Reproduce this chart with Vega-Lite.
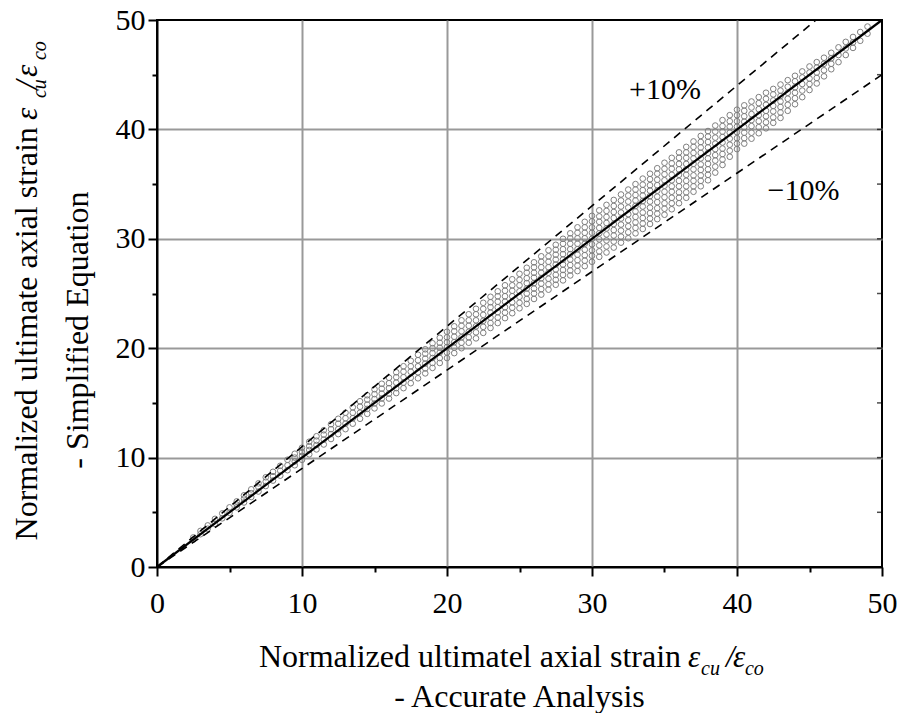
{
"$schema": "https://vega.github.io/schema/vega-lite/v6.json",
"width": 725,
"height": 547,
"autosize": {"type": "none"},
"padding": {"left": 157, "top": 20, "right": 20, "bottom": 146},
"background": "white",
"config": {
  "view": {"stroke": "black", "strokeWidth": 2},
  "font": "Liberation Serif"
},
"datasets": {
"pts": [
{"x":2.5,"y":2.5},{"x":2.5,"y":2.7},
{"x":3,"y":3.0},{"x":3,"y":3.3},
{"x":3.5,"y":3.5},{"x":3.5,"y":3.8},
{"x":4,"y":3.95},{"x":4,"y":4.4},
{"x":4.5,"y":4.45},{"x":4.5,"y":4.9},
{"x":5,"y":4.95},{"x":5,"y":5.45},
{"x":5.5,"y":5.45},{"x":5.5,"y":5.7},{"x":5.5,"y":6.0},
{"x":6,"y":5.9},{"x":6,"y":6.25},{"x":6,"y":6.55},
{"x":6.5,"y":6.4},{"x":6.5,"y":6.75},{"x":6.5,"y":7.1},
{"x":7,"y":6.9},{"x":7,"y":7.3},{"x":7,"y":7.65},
{"x":7.5,"y":7.4},{"x":7.5,"y":7.8},{"x":7.5,"y":8.2},
{"x":8,"y":7.9},{"x":8,"y":8.3},{"x":8,"y":8.7},
{"x":8.5,"y":8.35},{"x":8.5,"y":8.8},{"x":8.5,"y":9.25},
{"x":9,"y":8.85},{"x":9,"y":9.3},{"x":9,"y":9.8},
{"x":9.5,"y":9.3},{"x":9.5,"y":9.65},{"x":9.5,"y":10.0},{"x":9.5,"y":10.35},
{"x":10,"y":9.8},{"x":10,"y":10.15},{"x":10,"y":10.5},{"x":10,"y":10.9},
{"x":10.5,"y":10.3},{"x":10.5,"y":10.7},{"x":10.5,"y":11.05},{"x":10.5,"y":11.45},
{"x":11,"y":10.75},{"x":11,"y":11.15},{"x":11,"y":11.55},{"x":11,"y":11.95},
{"x":11.5,"y":11.2},{"x":11.5,"y":11.65},{"x":11.5,"y":12.1},{"x":11.5,"y":12.5},
{"x":12,"y":11.7},{"x":12,"y":12.15},{"x":12,"y":12.6},{"x":12,"y":13.05},
{"x":12.5,"y":12.15},{"x":12.5,"y":12.6},{"x":12.5,"y":13.1},{"x":12.5,"y":13.55},
{"x":13,"y":12.6},{"x":13,"y":13.1},{"x":13,"y":13.6},{"x":13,"y":14.1},
{"x":13.5,"y":13.1},{"x":13.5,"y":13.6},{"x":13.5,"y":14.1},{"x":13.5,"y":14.6},
{"x":14,"y":13.55},{"x":14,"y":14.1},{"x":14,"y":14.65},{"x":14,"y":15.15},
{"x":14.5,"y":14.0},{"x":14.5,"y":14.45},{"x":14.5,"y":14.85},{"x":14.5,"y":15.3},{"x":14.5,"y":15.7},
{"x":15,"y":14.5},{"x":15,"y":14.95},{"x":15,"y":15.35},{"x":15,"y":15.8},{"x":15,"y":16.25},
{"x":15.5,"y":14.95},{"x":15.5,"y":15.4},{"x":15.5,"y":15.85},{"x":15.5,"y":16.3},{"x":15.5,"y":16.75},
{"x":16,"y":15.4},{"x":16,"y":15.85},{"x":16,"y":16.35},{"x":16,"y":16.8},{"x":16,"y":17.3},
{"x":16.5,"y":15.9},{"x":16.5,"y":16.35},{"x":16.5,"y":16.85},{"x":16.5,"y":17.35},{"x":16.5,"y":17.8},
{"x":17,"y":16.35},{"x":17,"y":16.85},{"x":17,"y":17.35},{"x":17,"y":17.85},{"x":17,"y":18.35},
{"x":17.5,"y":16.8},{"x":17.5,"y":17.3},{"x":17.5,"y":17.85},{"x":17.5,"y":18.35},{"x":17.5,"y":18.85},
{"x":18,"y":17.25},{"x":18,"y":17.8},{"x":18,"y":18.35},{"x":18,"y":18.9},{"x":18,"y":19.4},
{"x":18.5,"y":17.7},{"x":18.5,"y":18.15},{"x":18.5,"y":18.6},{"x":18.5,"y":19.05},{"x":18.5,"y":19.5},{"x":18.5,"y":19.9},
{"x":19,"y":18.2},{"x":19,"y":18.65},{"x":19,"y":19.1},{"x":19,"y":19.55},{"x":19,"y":20.0},{"x":19,"y":20.45},
{"x":19.5,"y":18.65},{"x":19.5,"y":19.1},{"x":19.5,"y":19.6},{"x":19.5,"y":20.05},{"x":19.5,"y":20.5},{"x":19.5,"y":20.95},
{"x":20,"y":19.1},{"x":20,"y":19.6},{"x":20,"y":20.1},{"x":20,"y":20.55},{"x":20,"y":21.0},{"x":20,"y":21.5},
{"x":20.5,"y":19.55},{"x":20.5,"y":20.05},{"x":20.5,"y":20.55},{"x":20.5,"y":21.05},{"x":20.5,"y":21.55},{"x":20.5,"y":22.0},
{"x":21,"y":20.0},{"x":21,"y":20.5},{"x":21,"y":21.0},{"x":21,"y":21.55},{"x":21,"y":22.05},{"x":21,"y":22.55},
{"x":21.5,"y":20.5},{"x":21.5,"y":21.0},{"x":21.5,"y":21.5},{"x":21.5,"y":22.05},{"x":21.5,"y":22.55},{"x":21.5,"y":23.1},
{"x":22,"y":20.9},{"x":22,"y":21.45},{"x":22,"y":22.0},{"x":22,"y":22.55},{"x":22,"y":23.1},{"x":22,"y":23.6},
{"x":22.5,"y":21.4},{"x":22.5,"y":21.95},{"x":22.5,"y":22.5},{"x":22.5,"y":23.05},{"x":22.5,"y":23.6},{"x":22.5,"y":24.15},
{"x":23,"y":21.85},{"x":23,"y":22.3},{"x":23,"y":22.8},{"x":23,"y":23.25},{"x":23,"y":23.75},{"x":23,"y":24.2},{"x":23,"y":24.7},
{"x":23.5,"y":22.3},{"x":23.5,"y":22.8},{"x":23.5,"y":23.3},{"x":23.5,"y":23.75},{"x":23.5,"y":24.25},{"x":23.5,"y":24.75},{"x":23.5,"y":25.2},
{"x":24,"y":22.75},{"x":24,"y":23.25},{"x":24,"y":23.75},{"x":24,"y":24.25},{"x":24,"y":24.75},{"x":24,"y":25.25},{"x":24,"y":25.75},
{"x":24.5,"y":23.2},{"x":24.5,"y":23.7},{"x":24.5,"y":24.2},{"x":24.5,"y":24.75},{"x":24.5,"y":25.25},{"x":24.5,"y":25.75},{"x":24.5,"y":26.3},
{"x":25,"y":23.65},{"x":25,"y":24.15},{"x":25,"y":24.7},{"x":25,"y":25.2},{"x":25,"y":25.75},{"x":25,"y":26.25},{"x":25,"y":26.8},
{"x":25.5,"y":24.05},{"x":25.5,"y":24.5},{"x":25.5,"y":25.0},{"x":25.5,"y":25.45},{"x":25.5,"y":25.95},{"x":25.5,"y":26.4},{"x":25.5,"y":26.9},{"x":25.5,"y":27.35},
{"x":26,"y":24.5},{"x":26,"y":25.0},{"x":26,"y":25.45},{"x":26,"y":25.95},{"x":26,"y":26.45},{"x":26,"y":26.9},{"x":26,"y":27.4},{"x":26,"y":27.85},
{"x":26.5,"y":24.9},{"x":26.5,"y":25.4},{"x":26.5,"y":25.9},{"x":26.5,"y":26.4},{"x":26.5,"y":26.9},{"x":26.5,"y":27.4},{"x":26.5,"y":27.9},{"x":26.5,"y":28.4},
{"x":27,"y":25.35},{"x":27,"y":25.85},{"x":27,"y":26.35},{"x":27,"y":26.9},{"x":27,"y":27.4},{"x":27,"y":27.9},{"x":27,"y":28.4},{"x":27,"y":28.95},
{"x":27.5,"y":25.8},{"x":27.5,"y":26.25},{"x":27.5,"y":26.7},{"x":27.5,"y":27.2},{"x":27.5,"y":27.65},{"x":27.5,"y":28.1},{"x":27.5,"y":28.55},{"x":27.5,"y":29.0},{"x":27.5,"y":29.45},
{"x":28,"y":26.2},{"x":28,"y":26.7},{"x":28,"y":27.15},{"x":28,"y":27.65},{"x":28,"y":28.1},{"x":28,"y":28.6},{"x":28,"y":29.05},{"x":28,"y":29.55},{"x":28,"y":30.0},
{"x":28.5,"y":26.65},{"x":28.5,"y":27.1},{"x":28.5,"y":27.6},{"x":28.5,"y":28.1},{"x":28.5,"y":28.6},{"x":28.5,"y":29.05},{"x":28.5,"y":29.55},{"x":28.5,"y":30.05},{"x":28.5,"y":30.5},
{"x":29,"y":27.05},{"x":29,"y":27.55},{"x":29,"y":28.05},{"x":29,"y":28.55},{"x":29,"y":29.05},{"x":29,"y":29.55},{"x":29,"y":30.05},{"x":29,"y":30.55},{"x":29,"y":31.05},
{"x":29.5,"y":27.5},{"x":29.5,"y":28.0},{"x":29.5,"y":28.5},{"x":29.5,"y":29.0},{"x":29.5,"y":29.55},{"x":29.5,"y":30.05},{"x":29.5,"y":30.55},{"x":29.5,"y":31.05},{"x":29.5,"y":31.55},
{"x":30,"y":27.9},{"x":30,"y":28.45},{"x":30,"y":28.95},{"x":30,"y":29.5},{"x":30,"y":30.0},{"x":30,"y":30.55},{"x":30,"y":31.05},{"x":30,"y":31.6},{"x":30,"y":32.1},
{"x":30.5,"y":28.35},{"x":30.5,"y":28.85},{"x":30.5,"y":29.4},{"x":30.5,"y":29.95},{"x":30.5,"y":30.5},{"x":30.5,"y":31.0},{"x":30.5,"y":31.55},{"x":30.5,"y":32.05},{"x":30.5,"y":32.6},
{"x":31,"y":28.75},{"x":31,"y":29.3},{"x":31,"y":29.85},{"x":31,"y":30.4},{"x":31,"y":30.95},{"x":31,"y":31.45},{"x":31,"y":32.0},{"x":31,"y":32.55},{"x":31,"y":33.1},
{"x":31.5,"y":29.2},{"x":31.5,"y":29.75},{"x":31.5,"y":30.3},{"x":31.5,"y":30.8},{"x":31.5,"y":31.35},{"x":31.5,"y":31.9},{"x":31.5,"y":32.45},{"x":31.5,"y":33.0},{"x":31.5,"y":33.55},
{"x":32,"y":29.65},{"x":32,"y":30.2},{"x":32,"y":30.75},{"x":32,"y":31.3},{"x":32,"y":31.85},{"x":32,"y":32.4},{"x":32,"y":32.95},{"x":32,"y":33.5},{"x":32,"y":34.05},
{"x":32.5,"y":30.05},{"x":32.5,"y":30.6},{"x":32.5,"y":31.15},{"x":32.5,"y":31.7},{"x":32.5,"y":32.25},{"x":32.5,"y":32.85},{"x":32.5,"y":33.4},{"x":32.5,"y":33.95},{"x":32.5,"y":34.5},
{"x":33,"y":30.5},{"x":33,"y":31.0},{"x":33,"y":31.5},{"x":33,"y":32.0},{"x":33,"y":32.5},{"x":33,"y":33.0},{"x":33,"y":33.5},{"x":33,"y":34.0},{"x":33,"y":34.5},{"x":33,"y":35.0},
{"x":33.5,"y":30.9},{"x":33.5,"y":31.4},{"x":33.5,"y":31.9},{"x":33.5,"y":32.4},{"x":33.5,"y":32.95},{"x":33.5,"y":33.45},{"x":33.5,"y":33.95},{"x":33.5,"y":34.45},{"x":33.5,"y":34.95},{"x":33.5,"y":35.5},
{"x":34,"y":31.35},{"x":34,"y":31.85},{"x":34,"y":32.35},{"x":34,"y":32.85},{"x":34,"y":33.4},{"x":34,"y":33.9},{"x":34,"y":34.4},{"x":34,"y":34.9},{"x":34,"y":35.45},{"x":34,"y":35.95},
{"x":34.5,"y":31.8},{"x":34.5,"y":32.3},{"x":34.5,"y":32.8},{"x":34.5,"y":33.35},{"x":34.5,"y":33.85},{"x":34.5,"y":34.4},{"x":34.5,"y":34.9},{"x":34.5,"y":35.4},{"x":34.5,"y":35.95},{"x":34.5,"y":36.45},
{"x":35,"y":32.2},{"x":35,"y":32.75},{"x":35,"y":33.25},{"x":35,"y":33.8},{"x":35,"y":34.3},{"x":35,"y":34.85},{"x":35,"y":35.35},{"x":35,"y":35.9},{"x":35,"y":36.4},{"x":35,"y":36.95},
{"x":35.5,"y":32.7},{"x":35.5,"y":33.25},{"x":35.5,"y":33.75},{"x":35.5,"y":34.3},{"x":35.5,"y":34.8},{"x":35.5,"y":35.35},{"x":35.5,"y":35.85},{"x":35.5,"y":36.4},{"x":35.5,"y":36.9},{"x":35.5,"y":37.4},
{"x":36,"y":33.25},{"x":36,"y":33.75},{"x":36,"y":34.25},{"x":36,"y":34.8},{"x":36,"y":35.3},{"x":36,"y":35.85},{"x":36,"y":36.35},{"x":36,"y":36.85},{"x":36,"y":37.4},{"x":36,"y":37.9},
{"x":36.5,"y":33.75},{"x":36.5,"y":34.25},{"x":36.5,"y":34.8},{"x":36.5,"y":35.3},{"x":36.5,"y":35.85},{"x":36.5,"y":36.35},{"x":36.5,"y":36.85},{"x":36.5,"y":37.4},{"x":36.5,"y":37.9},{"x":36.5,"y":38.4},
{"x":37,"y":34.3},{"x":37,"y":34.8},{"x":37,"y":35.3},{"x":37,"y":35.8},{"x":37,"y":36.35},{"x":37,"y":36.85},{"x":37,"y":37.35},{"x":37,"y":37.85},{"x":37,"y":38.4},{"x":37,"y":38.9},
{"x":37.5,"y":34.8},{"x":37.5,"y":35.3},{"x":37.5,"y":35.8},{"x":37.5,"y":36.3},{"x":37.5,"y":36.8},{"x":37.5,"y":37.35},{"x":37.5,"y":37.85},{"x":37.5,"y":38.35},{"x":37.5,"y":38.85},{"x":37.5,"y":39.4},
{"x":38,"y":35.35},{"x":38,"y":35.85},{"x":38,"y":36.35},{"x":38,"y":36.85},{"x":38,"y":37.35},{"x":38,"y":37.85},{"x":38,"y":38.35},{"x":38,"y":38.85},{"x":38,"y":39.35},{"x":38,"y":39.85},
{"x":38.5,"y":36.05},{"x":38.5,"y":36.6},{"x":38.5,"y":37.15},{"x":38.5,"y":37.65},{"x":38.5,"y":38.2},{"x":38.5,"y":38.7},{"x":38.5,"y":39.25},{"x":38.5,"y":39.8},{"x":38.5,"y":40.35},
{"x":39,"y":36.75},{"x":39,"y":37.25},{"x":39,"y":37.75},{"x":39,"y":38.25},{"x":39,"y":38.8},{"x":39,"y":39.3},{"x":39,"y":39.8},{"x":39,"y":40.3},{"x":39,"y":40.85},
{"x":39.5,"y":37.5},{"x":39.5,"y":38.05},{"x":39.5,"y":38.6},{"x":39.5,"y":39.15},{"x":39.5,"y":39.7},{"x":39.5,"y":40.25},{"x":39.5,"y":40.75},{"x":39.5,"y":41.3},
{"x":40,"y":38.2},{"x":40,"y":38.7},{"x":40,"y":39.2},{"x":40,"y":39.75},{"x":40,"y":40.25},{"x":40,"y":40.75},{"x":40,"y":41.3},{"x":40,"y":41.8},
{"x":40.5,"y":38.7},{"x":40.5,"y":39.2},{"x":40.5,"y":39.7},{"x":40.5,"y":40.2},{"x":40.5,"y":40.7},{"x":40.5,"y":41.2},{"x":40.5,"y":41.7},{"x":40.5,"y":42.2},
{"x":41,"y":39.15},{"x":41,"y":39.7},{"x":41,"y":40.3},{"x":41,"y":40.85},{"x":41,"y":41.4},{"x":41,"y":42.0},{"x":41,"y":42.55},
{"x":41.5,"y":39.65},{"x":41.5,"y":40.2},{"x":41.5,"y":40.75},{"x":41.5,"y":41.3},{"x":41.5,"y":41.85},{"x":41.5,"y":42.4},{"x":41.5,"y":42.95},
{"x":42,"y":40.1},{"x":42,"y":40.65},{"x":42,"y":41.2},{"x":42,"y":41.7},{"x":42,"y":42.25},{"x":42,"y":42.8},{"x":42,"y":43.35},
{"x":42.5,"y":40.6},{"x":42.5,"y":41.1},{"x":42.5,"y":41.65},{"x":42.5,"y":42.15},{"x":42.5,"y":42.65},{"x":42.5,"y":43.2},{"x":42.5,"y":43.7},
{"x":43,"y":41.05},{"x":43,"y":41.55},{"x":43,"y":42.05},{"x":43,"y":42.55},{"x":43,"y":43.05},{"x":43,"y":43.55},{"x":43,"y":44.1},
{"x":43.5,"y":41.7},{"x":43.5,"y":42.25},{"x":43.5,"y":42.8},{"x":43.5,"y":43.35},{"x":43.5,"y":43.9},{"x":43.5,"y":44.5},
{"x":44,"y":42.3},{"x":44,"y":42.85},{"x":44,"y":43.35},{"x":44,"y":43.85},{"x":44,"y":44.4},{"x":44,"y":44.9},
{"x":44.5,"y":42.95},{"x":44.5,"y":43.55},{"x":44.5,"y":44.15},{"x":44.5,"y":44.75},{"x":44.5,"y":45.3},
{"x":45,"y":43.6},{"x":45,"y":44.15},{"x":45,"y":44.65},{"x":45,"y":45.2},{"x":45,"y":45.75},
{"x":45.5,"y":44.2},{"x":45.5,"y":44.7},{"x":45.5,"y":45.2},{"x":45.5,"y":45.65},{"x":45.5,"y":46.15},
{"x":46,"y":44.85},{"x":46,"y":45.4},{"x":46,"y":46.0},{"x":46,"y":46.55},
{"x":46.5,"y":45.5},{"x":46.5,"y":46.0},{"x":46.5,"y":46.5},{"x":46.5,"y":47.0},
{"x":47,"y":46.15},{"x":47,"y":46.8},{"x":47,"y":47.5},
{"x":47.5,"y":46.8},{"x":47.5,"y":47.4},{"x":47.5,"y":48.0},
{"x":48,"y":47.45},{"x":48,"y":47.95},{"x":48,"y":48.45},
{"x":48.5,"y":48.1},{"x":48.5,"y":48.9},
{"x":49,"y":48.75},{"x":49,"y":49.4}
],
"rticks": [{"v":5},{"v":10},{"v":15},{"v":20},{"v":25},{"v":30},{"v":35},{"v":40},{"v":45}]
},
"layer": [
{
  "data": {"name": "pts"},
  "mark": {"type": "point", "shape": "circle", "filled": false, "color": "#7f7f7f", "strokeWidth": 1, "size": 32, "opacity": 1},
  "encoding": {
    "x": {"field": "x", "type": "quantitative", "title": null, "scale": {"domain": [0, 50], "nice": false},
      "axis": {"values": [0,5,10,15,20,25,30,35,40,45,50], "title": null,
        "labelExpr": "datum.value % 10 === 0 ? datum.label : ''",
        "labelFont": "Liberation Serif", "labelFontSize": 30, "labelColor": "black", "labelPadding": 12,
        "labelFlush": false, "labelOverlap": false,
        "grid": true, "gridColor": "#999999", "gridWidth": 2,
        "gridOpacity": {"condition": {"test": "datum.value % 10 === 0 && datum.value > 0 && datum.value < 50", "value": 1}, "value": 0},
        "ticks": true, "tickColor": "black", "tickWidth": 2,
        "tickSize": {"condition": {"test": "datum.value % 10 === 0", "value": 9}, "value": 5},
        "domainColor": "black", "domainWidth": 2}},
    "y": {"field": "y", "type": "quantitative", "title": null, "scale": {"domain": [0, 50], "nice": false},
      "axis": {"values": [0,5,10,15,20,25,30,35,40,45,50], "title": null,
        "labelExpr": "datum.value % 10 === 0 ? datum.label : ''",
        "labelFont": "Liberation Serif", "labelFontSize": 30, "labelColor": "black", "labelPadding": 3,
        "labelFlush": false, "labelOverlap": false,
        "grid": true, "gridColor": "#999999", "gridWidth": 2,
        "gridOpacity": {"condition": {"test": "datum.value % 10 === 0 && datum.value > 0 && datum.value < 50", "value": 1}, "value": 0},
        "ticks": true, "tickColor": "black", "tickWidth": 2,
        "tickSize": {"condition": {"test": "datum.value % 10 === 0", "value": 9}, "value": 5},
        "domainColor": "black", "domainWidth": 2}}
  }
},
{
  "data": {"name": "rticks"},
  "mark": {"type": "tick", "orient": "horizontal", "color": "black", "size": 10, "thickness": 1.5, "clip": true},
  "encoding": {
    "x": {"datum": 50, "type": "quantitative", "title": null, "scale": {"domain": [0, 50]}},
    "y": {"field": "v", "type": "quantitative", "title": null, "scale": {"domain": [0, 50]}}
  }
},
{
  "data": {"values": [{"x": 0, "y": 0}, {"x": 45.45, "y": 50}]},
  "mark": {"type": "line", "color": "black", "strokeWidth": 1.6, "strokeDash": [8, 6]},
  "encoding": {
    "x": {"field": "x", "type": "quantitative", "title": null, "scale": {"domain": [0, 50]}},
    "y": {"field": "y", "type": "quantitative", "title": null, "scale": {"domain": [0, 50]}}
  }
},
{
  "data": {"values": [{"x": 0, "y": 0}, {"x": 50, "y": 45}]},
  "mark": {"type": "line", "color": "black", "strokeWidth": 1.6, "strokeDash": [8, 6]},
  "encoding": {
    "x": {"field": "x", "type": "quantitative", "title": null, "scale": {"domain": [0, 50]}},
    "y": {"field": "y", "type": "quantitative", "title": null, "scale": {"domain": [0, 50]}}
  }
},
{
  "data": {"values": [{"x": 0, "y": 0}, {"x": 50, "y": 50}]},
  "mark": {"type": "line", "color": "black", "strokeWidth": 2.2},
  "encoding": {
    "x": {"field": "x", "type": "quantitative", "title": null, "scale": {"domain": [0, 50]}},
    "y": {"field": "y", "type": "quantitative", "title": null, "scale": {"domain": [0, 50]}}
  }
},
{
  "data": {"values": [{"x": 35.03, "y": 42.78, "t": "+10%"}, {"x": 44.59, "y": 33.55, "t": "−10%"}]},
  "mark": {"type": "text", "font": "Liberation Serif", "fontSize": 30, "color": "black", "align": "center", "baseline": "alphabetic"},
  "encoding": {
    "x": {"field": "x", "type": "quantitative", "title": null, "scale": {"domain": [0, 50]}},
    "y": {"field": "y", "type": "quantitative", "title": null, "scale": {"domain": [0, 50]}},
    "text": {"field": "t"}
  }
},
{
  "data": {"values": [{"x": 36.14, "y": -9.14, "t": "Normalized ultimatel axial strain"}]},
  "mark": {"type": "text", "font": "Liberation Serif", "fontSize": 32, "color": "black", "align": "right", "baseline": "alphabetic", "clip": false},
  "encoding": {
    "x": {"field": "x", "type": "quantitative", "title": null, "scale": {"domain": [0, 50]}},
    "y": {"field": "y", "type": "quantitative", "title": null, "scale": {"domain": [0, 50]}},
    "text": {"field": "t"}
  }
},
{
  "data": {"values": [{"x": 36.62, "y": -9.14, "t": "ε"}, {"x": 39.24, "y": -9.14, "t": "/"}, {"x": 39.72, "y": -9.14, "t": "ε"}]},
  "mark": {"type": "text", "font": "Liberation Serif", "fontSize": 31, "fontStyle": "italic", "color": "black", "align": "left", "baseline": "alphabetic", "clip": false},
  "encoding": {
    "x": {"field": "x", "type": "quantitative", "title": null, "scale": {"domain": [0, 50]}},
    "y": {"field": "y", "type": "quantitative", "title": null, "scale": {"domain": [0, 50]}},
    "text": {"field": "t"}
  }
},
{
  "data": {"values": [{"x": 37.52, "y": -9.87, "t": "cu"}, {"x": 40.55, "y": -9.87, "t": "co"}]},
  "mark": {"type": "text", "font": "Liberation Serif", "fontSize": 20, "fontStyle": "italic", "color": "black", "align": "left", "baseline": "alphabetic", "clip": false},
  "encoding": {
    "x": {"field": "x", "type": "quantitative", "title": null, "scale": {"domain": [0, 50]}},
    "y": {"field": "y", "type": "quantitative", "title": null, "scale": {"domain": [0, 50]}},
    "text": {"field": "t"}
  }
},
{
  "data": {"values": [{"x": 25, "y": -12.84, "t": "- Accurate Analysis"}]},
  "mark": {"type": "text", "font": "Liberation Serif", "fontSize": 32, "color": "black", "align": "center", "baseline": "alphabetic", "clip": false},
  "encoding": {
    "x": {"field": "x", "type": "quantitative", "title": null, "scale": {"domain": [0, 50]}},
    "y": {"field": "y", "type": "quantitative", "title": null, "scale": {"domain": [0, 50]}},
    "text": {"field": "t"}
  }
},
{
  "data": {"values": [{"x": -8.28, "y": 40.2, "t": "Normalized ultimate axial strain"}]},
  "mark": {"type": "text", "font": "Liberation Serif", "fontSize": 32, "color": "black", "align": "right", "baseline": "alphabetic", "angle": 270, "clip": false},
  "encoding": {
    "x": {"field": "x", "type": "quantitative", "title": null, "scale": {"domain": [0, 50]}},
    "y": {"field": "y", "type": "quantitative", "title": null, "scale": {"domain": [0, 50]}},
    "text": {"field": "t"}
  }
},
{
  "data": {"values": [{"x": -8.28, "y": 40.86, "t": "ε"}, {"x": -8.28, "y": 43.69, "t": "/"}, {"x": -8.28, "y": 44.79, "t": "ε"}]},
  "mark": {"type": "text", "font": "Liberation Serif", "fontSize": 31, "fontStyle": "italic", "color": "black", "align": "left", "baseline": "alphabetic", "angle": 270, "clip": false},
  "encoding": {
    "x": {"field": "x", "type": "quantitative", "title": null, "scale": {"domain": [0, 50]}},
    "y": {"field": "y", "type": "quantitative", "title": null, "scale": {"domain": [0, 50]}},
    "text": {"field": "t"}
  }
},
{
  "data": {"values": [{"x": -7.66, "y": 42.87, "t": "cu"}, {"x": -7.66, "y": 46.34, "t": "co"}]},
  "mark": {"type": "text", "font": "Liberation Serif", "fontSize": 20, "fontStyle": "italic", "color": "black", "align": "left", "baseline": "alphabetic", "angle": 270, "clip": false},
  "encoding": {
    "x": {"field": "x", "type": "quantitative", "title": null, "scale": {"domain": [0, 50]}},
    "y": {"field": "y", "type": "quantitative", "title": null, "scale": {"domain": [0, 50]}},
    "text": {"field": "t"}
  }
},
{
  "data": {"values": [{"x": -4.76, "y": 21.66, "t": "- Simplified Equation"}]},
  "mark": {"type": "text", "font": "Liberation Serif", "fontSize": 32, "color": "black", "align": "center", "baseline": "alphabetic", "angle": 270, "clip": false},
  "encoding": {
    "x": {"field": "x", "type": "quantitative", "title": null, "scale": {"domain": [0, 50]}},
    "y": {"field": "y", "type": "quantitative", "title": null, "scale": {"domain": [0, 50]}},
    "text": {"field": "t"}
  }
}
]
}
